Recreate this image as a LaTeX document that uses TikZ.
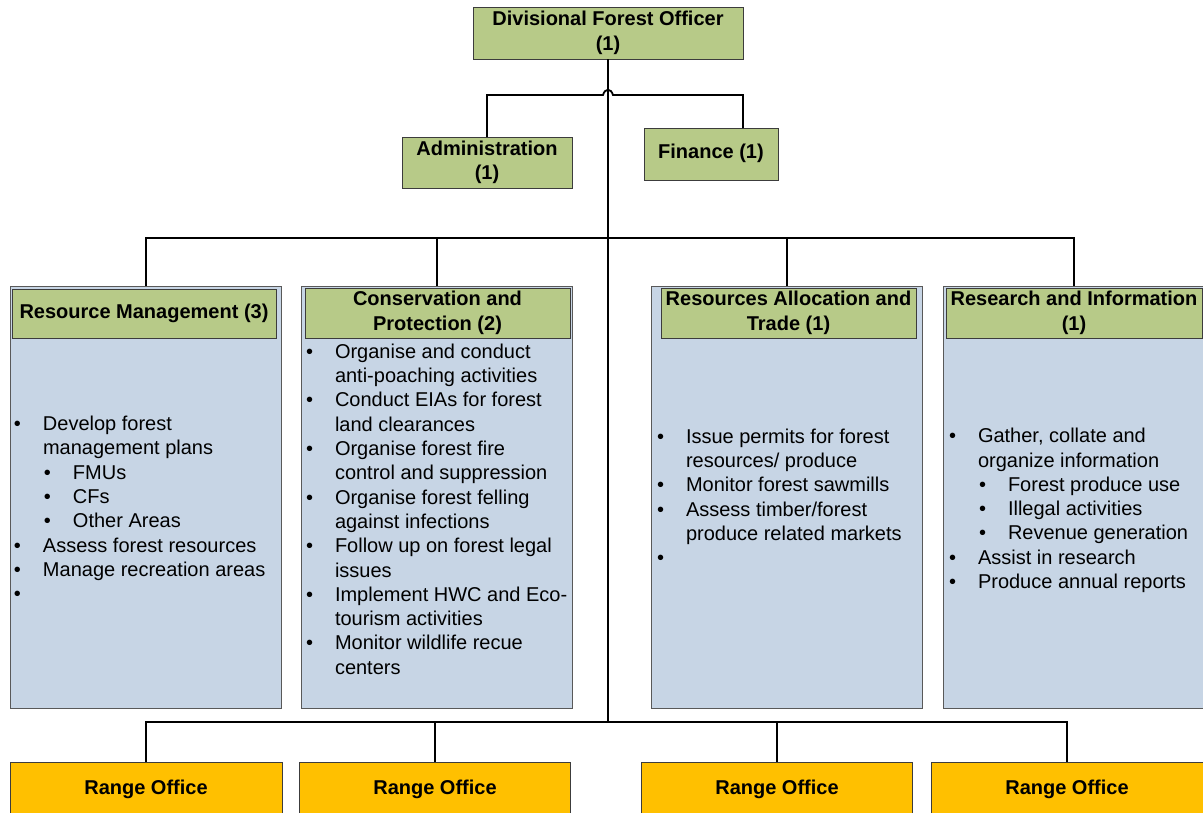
\documentclass[tikz,border=0pt]{standalone}
\usepackage{fontspec}
\setmainfont{Liberation Sans}
\definecolor{hdrgreen}{RGB}{183,202,136}
\definecolor{bodyblue}{RGB}{199,213,229}
\definecolor{rangeor}{RGB}{255,192,0}
\definecolor{edge}{RGB}{60,60,60}
\newcommand\bl{\llap{\textbullet\hspace{22pt}}}
\newcommand\sbl{\hspace*{30pt}\bl}
\begin{document}
\begin{tikzpicture}[x=1pt,y=-1pt,
  every node/.style={inner sep=0pt,outer sep=0pt},
  txt/.style={font=\fontsize{20}{24.3}\selectfont, align=left, anchor=north west},
  gbox/.style={draw=edge, line width=0.9pt, fill=hdrgreen, font=\fontsize{20}{24.3}\selectfont\bfseries, align=center},
  bbox/.style={draw=edge!85, line width=0.9pt, fill=bodyblue, minimum width=271pt, minimum height=422pt},
  obox/.style={draw=edge, line width=0.9pt, fill=rangeor, minimum width=272pt, minimum height=54pt, font=\fontsize{20}{24.3}\selectfont\bfseries},
  conn/.style={line width=1.8pt, black}]
\useasboundingbox (0,0) rectangle (1203,812);

% top level
\node[gbox, minimum width=270pt, minimum height=52pt] (dfo) at (608,33) {\strut Divisional Forest Officer\\(1)\strut};
\node[gbox, minimum width=170pt, minimum height=51pt] (adm) at (487,162.5) {\strut Administration\\(1)\strut};
\node[gbox, minimum width=134pt, minimum height=52pt] (fin) at (711,154) {\strut Finance (1)};

% section bodies
\node[bbox] (rm) at (146,497) {};
\node[bbox] (cp) at (437,497) {};
\node[bbox] (ra) at (787,497) {};
\node[bbox] (ri) at (1079,497) {};

% section headers
\node[gbox, minimum width=264pt, minimum height=49pt] (rmh) at (144,313.5) {\strut Resource Management (3)};
\node[gbox, minimum width=265pt, minimum height=50pt] (cph) at (437.5,313) {\strut Conservation and\\Protection (2)\strut};
\node[gbox, minimum width=255pt, minimum height=50pt] (rah) at (788.5,313) {\strut Resources Allocation and\\Trade (1)\strut};
\node[gbox, minimum width=256pt, minimum height=50pt] (rih) at (1074,313) {\strut Research and Information\\(1)\strut};

% lists
\node[txt] (rml) at (43,413.5) {\bl\strut Develop forest\\management plans\\\sbl FMUs\\\sbl CFs\\\sbl Other Areas\\\bl Assess forest resources\\\bl Manage recreation areas\\\bl};
\node[txt] (cpl) at (335,341.3) {\bl\strut Organise and conduct\\anti-poaching activities\\\bl Conduct EIAs for forest\\land clearances\\\bl Organise forest fire\\control and suppression\\\bl Organise forest felling\\against infections\\\bl Follow up on forest legal\\issues\\\bl Implement HWC and Eco-\\tourism activities\\\bl Monitor wildlife recue\\centers};
\node[txt] (ral) at (686,426.3) {\bl\strut Issue permits for forest\\resources/ produce\\\bl Monitor forest sawmills\\\bl Assess timber/forest\\produce related markets\\\bl};
\node[txt] (ril) at (978,425.7) {\bl\strut Gather, collate and\\organize information\\\sbl Forest produce use\\\sbl Illegal activities\\\sbl Revenue generation\\\bl Assist in research\\\bl Produce annual reports};

% range offices
\node[obox] (ro1) at (146,789) {Range Office};
\node[obox, minimum width=271pt] (ro2) at (435,789) {Range Office};
\node[obox, minimum width=271pt] (ro3) at (777,789) {Range Office};
\node[obox] (ro4) at (1067,789) {Range Office};

% connectors
\coordinate (busT) at (608,238);
\coordinate (busB) at (608,722);
\coordinate (hopL) at (603,95);
\coordinate (hopR) at (613,95);
\draw[conn] (dfo.south) -- (busB);
\draw[conn] (adm.north) |- (hopL) .. controls (605,88) and (611,88) .. (hopR) -| ([xshift=32pt]fin.north);
\draw[conn] (rm.north) |- (busT) -| ([xshift=-5pt]ri.north);
\draw[conn] (cp.north) -- (cp.north |- busT);
\draw[conn] (ra.north) -- (ra.north |- busT);
\draw[conn] (ro1.north) |- (busB) -| (ro4.north);
\draw[conn] (ro2.north) -- (ro2.north |- busB);
\draw[conn] (ro3.north) -- (ro3.north |- busB);
\end{tikzpicture}
\end{document}
